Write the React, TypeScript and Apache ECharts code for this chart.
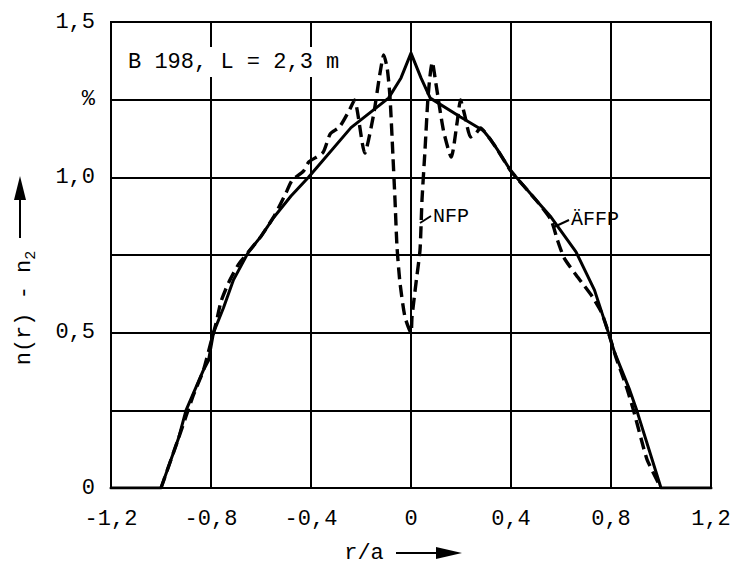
import React, { useEffect, useRef } from 'react';
import * as echarts from 'echarts';

const FONT = '"Liberation Mono", "DejaVu Sans Mono", monospace';

// Axis tick labels
const xTickLabels = ['-1,2', '-0,8', '-0,4', '0', '0,4', '0,8', '1,2'];
const yTickLabels = ['0', '', '0,5', '', '1,0', '%', '1,5'];

// ÄFFP (solid)
const affpR = [-1.2, -1.0, -0.93, -0.9, -0.83, -0.81, -0.79, -0.75, -0.71, -0.65, -0.6, -0.55, -0.48, -0.41, -0.24, -0.09, -0.04, 0,
  0.04, 0.077, 0.198, 0.29, 0.32, 0.345, 0.4, 0.5, 0.56, 0.66, 0.734, 0.786, 0.815, 0.875, 0.903, 1.0, 1.2];
const affpN = [0, 0, 0.16, 0.25, 0.38, 0.41, 0.5, 0.58, 0.67, 0.76, 0.81, 0.87, 0.94, 1.0, 1.16, 1.255, 1.32, 1.4,
  1.32, 1.255, 1.194, 1.15, 1.12, 1.09, 1.02, 0.927, 0.872, 0.76, 0.637, 0.509, 0.435, 0.315, 0.25, 0, 0];

// NFP (dashed)
const nfpR = [-1.0, -0.93, -0.87, -0.83, -0.8, -0.78, -0.76, -0.73, -0.69, -0.65, -0.6, -0.544, -0.5, -0.476, -0.43, -0.408,
  -0.352, -0.323, -0.286, -0.246, -0.226, -0.185, -0.15, -0.125, -0.109, -0.095, -0.084, -0.072, -0.064, -0.056, -0.044, -0.024, 0,
  0.004, 0.02, 0.036, 0.044, 0.056, 0.068, 0.078, 0.085, 0.1, 0.13, 0.161, 0.185, 0.198, 0.215, 0.238, 0.258, 0.278, 0.31,
  0.345, 0.4, 0.5, 0.56, 0.585, 0.613, 0.661, 0.694, 0.726, 0.762, 0.79, 0.82, 0.86, 0.89, 0.92, 0.945, 1.0];
const nfpN = [0, 0.16, 0.3, 0.38, 0.47, 0.53, 0.6, 0.66, 0.72, 0.76, 0.81, 0.88, 0.95, 0.99, 1.02, 1.05,
  1.08, 1.14, 1.162, 1.217, 1.249, 1.078, 1.2, 1.33, 1.394, 1.35, 1.258, 1.065, 0.927, 0.776, 0.66, 0.55, 0.5,
  0.55, 0.66, 0.766, 0.927, 1.088, 1.258, 1.34, 1.371, 1.3, 1.15, 1.065, 1.18, 1.249, 1.2, 1.13, 1.14, 1.159, 1.13,
  1.09, 1.02, 0.927, 0.863, 0.8, 0.74, 0.685, 0.65, 0.615, 0.565, 0.5, 0.42, 0.33, 0.25, 0.16, 0.09, 0];

const zip = (xs: number[], ys: number[]) => xs.map((x, i) => [x, ys[i]]);

export default function App() {
  const ref = useRef<HTMLDivElement>(null);
  useEffect(() => {
    const chart = echarts.init(ref.current!, null, { renderer: 'svg' });
    const labelStyle = { color: '#000', fontFamily: FONT, fontSize: 22 };
    chart.setOption({
      animation: false,
      backgroundColor: '#fff',
      grid: { left: 111, right: 24, top: 22, bottom: 82, show: true, borderColor: '#000', borderWidth: 2 },
      xAxis: {
        type: 'value', min: -1.2, max: 1.2, interval: 0.4,
        axisLine: { show: false }, axisTick: { show: false },
        splitLine: { show: true, lineStyle: { color: '#000', width: 2 } },
        axisLabel: { ...labelStyle, margin: 20, formatter: (v: number) => xTickLabels[Math.round((v + 1.2) / 0.4)] ?? '' },
      },
      yAxis: {
        type: 'value', min: 0, max: 1.5, interval: 0.25,
        axisLine: { show: false }, axisTick: { show: false },
        splitLine: { show: true, lineStyle: { color: '#000', width: 2 } },
        axisLabel: { ...labelStyle, margin: 16, formatter: (v: number) => yTickLabels[Math.round(v / 0.25)] ?? '' },
      },
      series: [
        {
          name: 'ÄFFP', type: 'line', data: zip(affpR, affpN), showSymbol: false, symbol: 'none',
          lineStyle: { color: '#000', width: 3, join: 'round', cap: 'round' }, z: 3,
        },
        {
          name: 'NFP', type: 'line', data: zip(nfpR, nfpN), showSymbol: false, symbol: 'none', smooth: 0.2,
          lineStyle: { color: '#000', width: 3.4, type: [12, 6], join: 'round' }, z: 4,
        },
      ],
      graphic: [
        {
          type: 'text', left: 122, top: 47, z: 10,
          style: { text: 'B 198, L = 2,3 m', font: `22px ${FONT}`, fill: '#000', backgroundColor: '#fff', padding: [4, 6] },
        },
        { type: 'line', shape: { x1: 420, y1: 223, x2: 431, y2: 216 }, style: { stroke: '#000', lineWidth: 2 }, z: 10 },
        {
          type: 'text', x: 433, y: 216, z: 10,
          style: { text: 'NFP', font: `20px ${FONT}`, fill: '#000', align: 'left', verticalAlign: 'middle', textAlign: 'left', textVerticalAlign: 'middle' },
        },
        { type: 'line', shape: { x1: 554, y1: 227, x2: 569, y2: 220 }, style: { stroke: '#000', lineWidth: 2 }, z: 10 },
        {
          type: 'text', x: 571, y: 219, z: 10,
          style: { text: 'ÄFFP', font: `20px ${FONT}`, fill: '#000', align: 'left', verticalAlign: 'middle', textAlign: 'left', textVerticalAlign: 'middle' },
        },
        // y axis title
        {
          type: 'text', x: 24, y: 308, rotation: Math.PI / 2, z: 10,
          style: {
            text: '{a|n(r) - n}{s|2}',
            align: 'center', verticalAlign: 'middle', textAlign: 'center', textVerticalAlign: 'middle',
            rich: {
              a: { fontFamily: FONT, fontSize: 22, color: '#000', lineHeight: 30, verticalAlign: 'middle' },
              s: { fontFamily: FONT, fontSize: 15, color: '#000', lineHeight: 30, verticalAlign: 'bottom', padding: [10, 0, 0, 0] },
            },
          },
        },
        { type: 'line', shape: { x1: 20, y1: 238, x2: 20, y2: 195 }, style: { stroke: '#000', lineWidth: 2 }, z: 10 },
        { type: 'polygon', shape: { points: [[14, 200], [20, 176], [26, 200]] }, style: { fill: '#000' }, z: 10 },
        // x axis title
        {
          type: 'text', x: 364, y: 553, z: 10,
          style: { text: 'r/a', font: `22px ${FONT}`, fill: '#000', align: 'center', verticalAlign: 'middle', textAlign: 'center', textVerticalAlign: 'middle' },
        },
        { type: 'line', shape: { x1: 396, y1: 553, x2: 440, y2: 553 }, style: { stroke: '#000', lineWidth: 2 }, z: 10 },
        { type: 'polygon', shape: { points: [[436, 547], [462, 553], [436, 559]] }, style: { fill: '#000' }, z: 10 },
      ],
    });
    return () => chart.dispose();
  }, []);
  return <div ref={ref} style={{ position: 'fixed', left: 0, top: 0, width: 735, height: 570, background: '#fff' }} />;
}
